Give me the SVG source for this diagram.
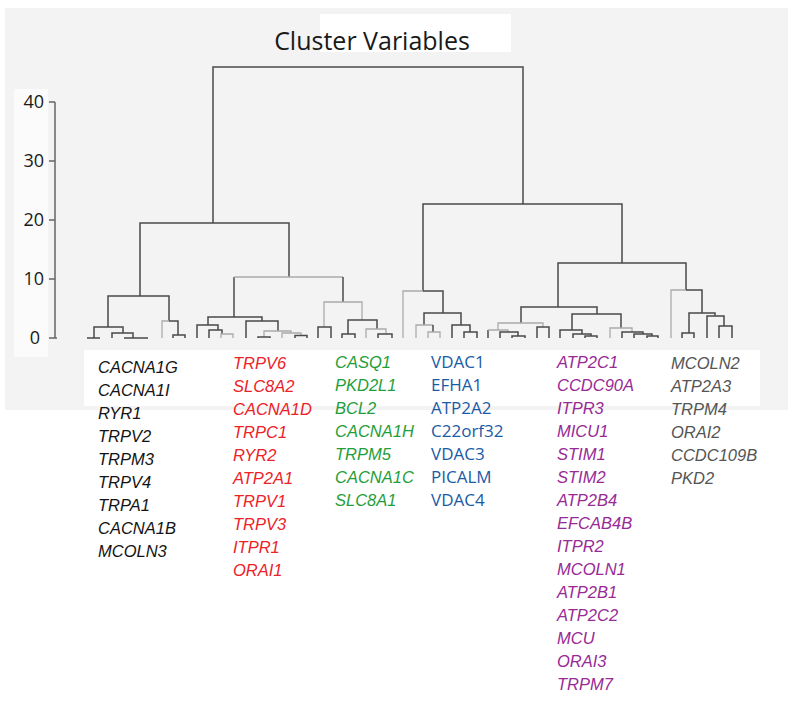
<svg xmlns="http://www.w3.org/2000/svg" width="792" height="706" viewBox="0 0 792 706">
<style>
.d{fill:none;stroke:#4a4a4a;stroke-width:1.5}
.l{fill:none;stroke:#ababab;stroke-width:1.3}
.ax{fill:none;stroke:#666666;stroke-width:1.5}
.yl{font-family:"Open Sans",sans-serif;font-size:18px;fill:#1a1a1a;text-anchor:end}
.g{font-family:"Liberation Sans",Arial,sans-serif;font-style:italic;font-size:16.5px}
.b{font-family:"Open Sans",sans-serif;font-size:17px;fill:#1a5ba6}
.k{fill:#141414}.r{fill:#ec2228}.gr{fill:#1f9e3a}.p{fill:#982a96}.s{fill:#555555}
</style>
<rect x="0" y="0" width="792" height="706" fill="#ffffff"/>
<rect x="5" y="8" width="783" height="402" fill="#f3f3f3"/>
<rect x="320" y="14" width="191" height="38" fill="#ffffff"/>
<rect x="14" y="89" width="34" height="268" fill="#fbfbfb"/>
<rect x="84" y="350" width="676" height="56" fill="#ffffff"/>
<g id="title"><text x="372" y="50" font-family="Open Sans, sans-serif" font-size="25" text-anchor="middle" fill="#1a1a1a">Cluster Variables</text></g>
<g id="axis">
<path class="ax" d="M55 102V338M49 102H55M49 161H55M49 220H55M49 279H55M49 338H57"/>
<text class="yl" x="44" y="108">40</text>
<text class="yl" x="44" y="167">30</text>
<text class="yl" x="44" y="226">20</text>
<text class="yl" x="44" y="285">10</text>
<text class="yl" x="40" y="344">0</text>
</g>
<g id="connectors">
<path class="d" d="M213 223V67H523V204"/>
<path class="d" d="M140 296V223H289V277"/>
<path class="d" d="M108 327V296H169V321"/>
<path class="d" d="M94 338V327H123V333"/>
<path class="d" d="M87 338H100"/>
<path class="d" d="M112 338V333H133V338"/>
<path class="d" d="M124 338H148"/>
<path class="l" d="M162 338V321H169"/>
<path class="d" d="M169 321H178V335"/>
<path class="d" d="M173 338V335H185V338"/>
<path class="d" d="M234 317V277"/>
<path class="l" d="M234 277H343"/>
<path class="d" d="M343 277V302"/>
<path class="l" d="M324 327V302H362V320"/>
<path class="d" d="M208 325V317H262V321"/>
<path class="d" d="M197 338V325H218V330"/>
<path class="d" d="M209 338V330H222V334"/>
<path class="l" d="M221 338V334H233V338"/>
<path class="d" d="M246 338V321H278V331"/>
<path class="l" d="M264 337V331H291V333"/>
<path class="d" d="M258 338V337H270V338"/>
<path class="l" d="M282 338V333H301V335.5"/>
<path class="d" d="M295 338V335.5H307V338"/>
<path class="d" d="M318 338V327H331V338"/>
<path class="d" d="M348 334V320H377V329"/>
<path class="d" d="M342 338V334H355V338"/>
<path class="l" d="M366 338V329H386V334"/>
<path class="d" d="M378 338V334H392V338"/>
<path class="d" d="M423 291V204H622V263"/>
<path class="l" d="M403 338V291H423"/>
<path class="d" d="M423 291H443V313"/>
<path class="d" d="M424 325V313H461V325"/>
<path class="l" d="M416 338V325H433"/>
<path class="d" d="M433 325V332"/>
<path class="l" d="M428 338V332H440V338"/>
<path class="d" d="M452 338V325H470V332"/>
<path class="d" d="M464 338V332H477V338"/>
<path class="d" d="M558 307V263H686V290"/>
<path class="d" d="M521 323V307H597V314"/>
<path class="l" d="M498 330V323H543V327"/>
<path class="d" d="M488 338V330"/>
<path class="l" d="M488 330H508V332"/>
<path class="d" d="M500 338V332H518V336"/>
<path class="d" d="M512 338V336H525V338"/>
<path class="d" d="M537 338V327H549V338"/>
<path class="d" d="M572 330V314H621V328"/>
<path class="d" d="M560 338V330H582V334"/>
<path class="d" d="M573 338V334H591V336"/>
<path class="d" d="M585 338V336H597V338"/>
<path class="l" d="M610 338V328H632V332"/>
<path class="d" d="M622 338V332H643V334"/>
<path class="d" d="M634 338V334H652V336"/>
<path class="d" d="M647 338V336H658V338"/>
<path class="l" d="M671 338V290H686"/>
<path class="d" d="M686 290H702V313"/>
<path class="d" d="M689 333V313H715V316"/>
<path class="d" d="M682 338V333H694V338"/>
<path class="d" d="M707 338V316H724V326"/>
<path class="d" d="M719 338V326H732V338"/>
</g>
<g id="cluster-black" class="g k">
<text x="98" y="373">CACNA1G</text>
<text x="98" y="396">CACNA1I</text>
<text x="98" y="419">RYR1</text>
<text x="98" y="442">TRPV2</text>
<text x="98" y="465">TRPM3</text>
<text x="98" y="488">TRPV4</text>
<text x="98" y="511">TRPA1</text>
<text x="98" y="534">CACNA1B</text>
<text x="98" y="557">MCOLN3</text>
</g>
<g id="cluster-red" class="g r">
<text x="233" y="369">TRPV6</text>
<text x="233" y="392">SLC8A2</text>
<text x="233" y="415">CACNA1D</text>
<text x="233" y="438">TRPC1</text>
<text x="233" y="461">RYR2</text>
<text x="233" y="484">ATP2A1</text>
<text x="233" y="507">TRPV1</text>
<text x="233" y="530">TRPV3</text>
<text x="233" y="553">ITPR1</text>
<text x="233" y="576">ORAI1</text>
</g>
<g id="cluster-green" class="g gr">
<text x="335" y="368">CASQ1</text>
<text x="335" y="391">PKD2L1</text>
<text x="335" y="414">BCL2</text>
<text x="335" y="437">CACNA1H</text>
<text x="335" y="460">TRPM5</text>
<text x="335" y="483">CACNA1C</text>
<text x="335" y="506">SLC8A1</text>
</g>
<g id="cluster-blue" class="b">
<text x="431" y="368">VDAC1</text>
<text x="431" y="391">EFHA1</text>
<text x="431" y="414">ATP2A2</text>
<text x="431" y="437">C22orf32</text>
<text x="431" y="460">VDAC3</text>
<text x="431" y="483">PICALM</text>
<text x="431" y="506">VDAC4</text>
</g>
<g id="cluster-purple" class="g p">
<text x="557" y="368">ATP2C1</text>
<text x="557" y="391">CCDC90A</text>
<text x="557" y="414">ITPR3</text>
<text x="557" y="437">MICU1</text>
<text x="557" y="460">STIM1</text>
<text x="557" y="483">STIM2</text>
<text x="557" y="506">ATP2B4</text>
<text x="557" y="529">EFCAB4B</text>
<text x="557" y="552">ITPR2</text>
<text x="557" y="575">MCOLN1</text>
<text x="557" y="598">ATP2B1</text>
<text x="557" y="621">ATP2C2</text>
<text x="557" y="644">MCU</text>
<text x="557" y="667">ORAI3</text>
<text x="557" y="690">TRPM7</text>
</g>
<g id="cluster-grey" class="g s">
<text x="671" y="369">MCOLN2</text>
<text x="671" y="392">ATP2A3</text>
<text x="671" y="415">TRPM4</text>
<text x="671" y="438">ORAI2</text>
<text x="671" y="461">CCDC109B</text>
<text x="671" y="484">PKD2</text>
</g>
</svg>
